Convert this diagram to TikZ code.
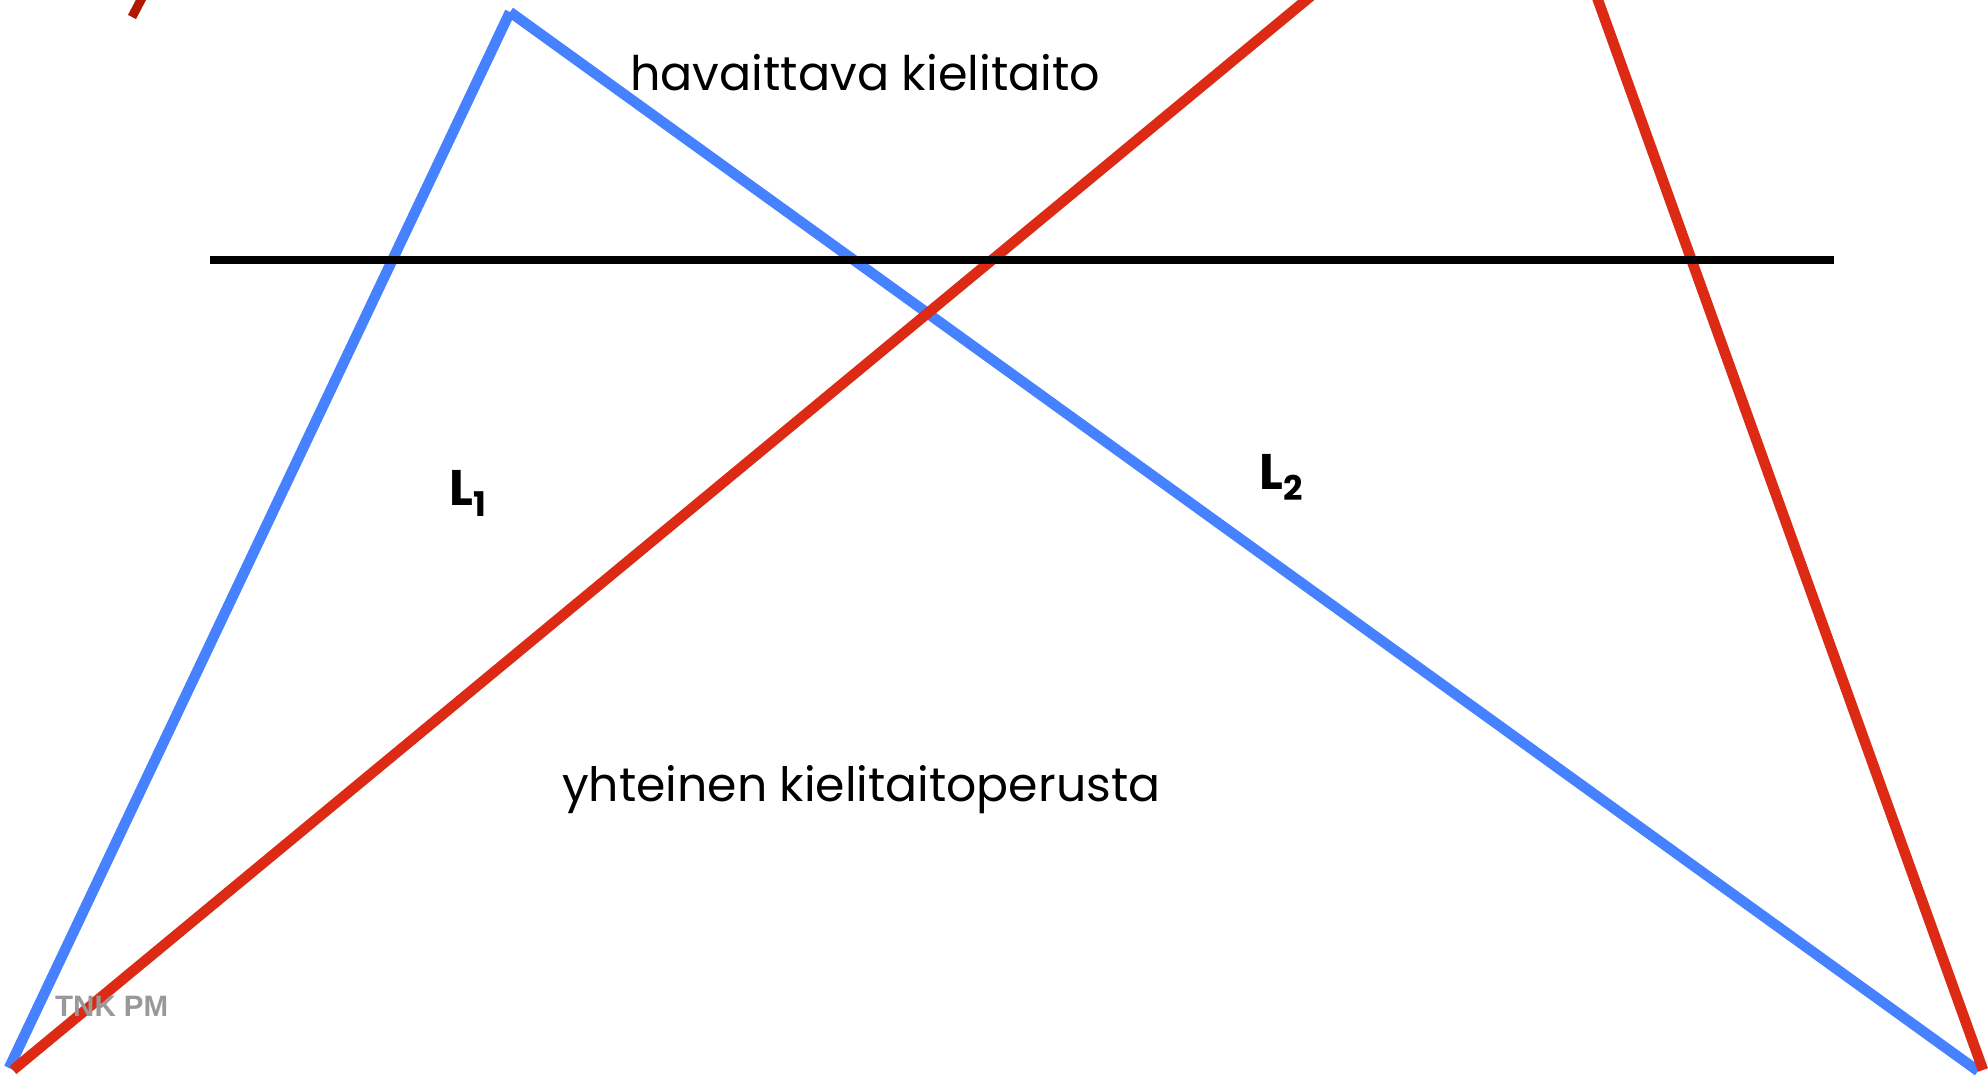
\documentclass[tikz,border=0pt]{standalone}
\usepackage{fontspec}
\newfontfamily\geofont{Poppins}
\newfontfamily\marefont{Liberation Sans}
\definecolor{lblue}{RGB}{70,130,255}
\definecolor{lred}{RGB}{220,42,20}
\definecolor{dred}{RGB}{176,24,0}
\definecolor{wgray}{RGB}{153,153,153}
\tikzset{
  blueline/.style={draw=lblue,line width=10.5pt},
  redline/.style={draw=lred,line width=10.5pt},
  blackline/.style={draw=black,line width=8.5pt},
  txtlabel/.style={inner sep=0pt,font=\geofont\fontsize{44}{52}\selectfont},
  langlabel/.style={inner sep=0pt,font=\geofont\bfseries\fontsize{50}{60}\selectfont},
  wmark/.style={inner sep=0pt,text=wgray,font=\marefont\bfseries\fontsize{29.5}{36}\selectfont}
}
\begin{document}
\begin{tikzpicture}[x=1pt,y=-1pt]
\useasboundingbox (0,0) rectangle (1988,1081);
\begin{scope}
\clip (0,0) rectangle (1988,1081);
% blue triangle
\coordinate (b1) at (9,1068);
\coordinate (b2) at (510,12);
\coordinate (b3) at (1978,1071);
\draw[blueline] (b1) -- (b2);
\draw[blueline] (b2) -- (b3);
% red inverted triangle
\coordinate (r1) at (13,1070);
\coordinate (r2) at (1531,-186);
\coordinate (r3) at (1983,1070);
\draw[redline,miter limit=20] (r1) -- (r2) -- (r3);
% small dark red mark
\coordinate (m1) at (142,-2);
\coordinate (m2) at (132,17);
\draw[draw=dred,line width=9pt] (m1) -- (m2);
% black line
\coordinate (k1) at (210,260);
\coordinate (k2) at (1834,260);
\draw[blackline] (k1) -- (k2);
\end{scope}
\node[txtlabel,anchor=base west] (top) at (630,90) {\resizebox{470pt}{!}{havaittava kielitaito}};
\node[txtlabel,anchor=base west] (bottom) at (562,801) {\resizebox{598pt}{!}{yhteinen kielitaitoperusta}};
\node[langlabel,anchor=base west] (l1) at (449,505) {L\raisebox{-0.22em}{\fontsize{34}{40}\selectfont 1}};
\node[langlabel,anchor=base west] (l2) at (1259,489) {L\raisebox{-0.22em}{\fontsize{34}{40}\selectfont 2}};
\node[wmark,anchor=base west] (tnk) at (55,1016) {TNK PM};
\end{tikzpicture}
\end{document}
